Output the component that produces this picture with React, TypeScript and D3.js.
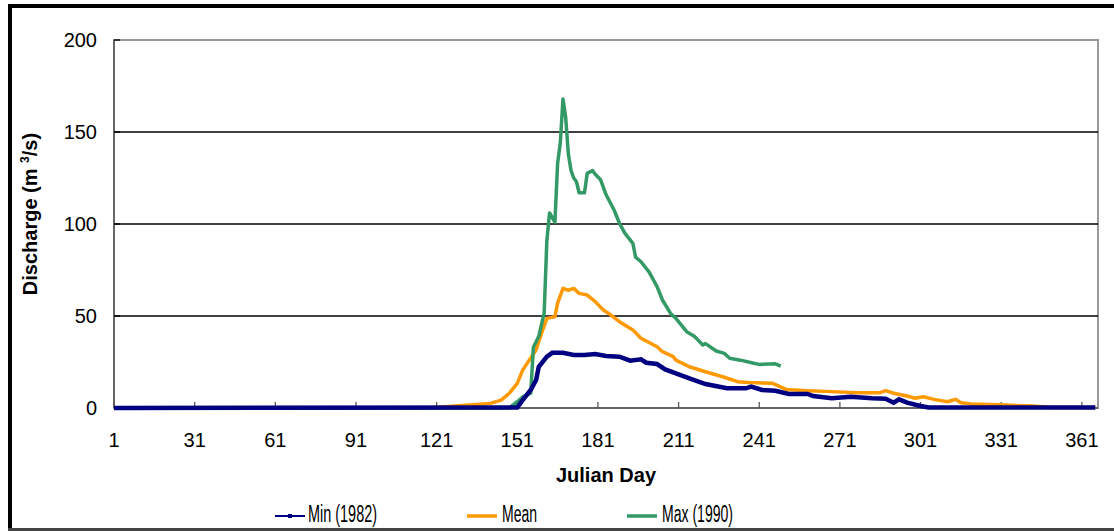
import React from "react";
import * as d3 from "d3";

// daily discharge readings, [julian day, m3/s]
const minSeries: [number, number][] = [
  [1, 0], [151, 0.3], [153, 4.3], [156, 9.8], [158, 15.2], [159, 22.4], [162, 27.9],
  [164, 30], [168, 30], [172, 28.8], [176, 28.8], [180, 29.3], [184, 28.3], [189, 27.9],
  [193, 25.7], [197, 26.5], [199, 24.6], [203, 23.9], [206, 21], [210, 18.8], [215, 16.1],
  [221, 13], [229, 10.7], [236, 10.7], [238, 11.6], [242, 9.8], [247, 9.4], [252, 7.6],
  [259, 7.6], [261, 6.5], [268, 5.3], [275, 6.1], [283, 5.3], [288, 5], [291, 2.9],
  [293, 4.7], [296, 2.9], [301, 1.1], [304, 0.3], [366, 0.3],
];

const meanSeries: [number, number][] = [
  [1, 0], [120, 0.3], [133, 1.6], [141, 2.5], [145, 4.3], [148, 8], [151, 13.4],
  [153, 20.6], [155, 25], [158, 31.5], [160, 40.6], [162, 48.7], [165, 49.6], [166, 57],
  [168, 65], [170, 64], [172, 65], [174, 62.3], [177, 61.4], [180, 57.8], [183, 53.3],
  [185, 51.4], [189, 46.9], [194, 42.4], [197, 37.9], [203, 33.3], [205, 30.6],
  [209, 27.9], [210, 26], [215, 22.4], [221, 19.7], [228, 16.7], [233, 14.3], [237, 13.8],
  [246, 13.4], [251, 10.1], [259, 9.4], [268, 8.9], [277, 8.3], [286, 8.3], [288, 9.4],
  [291, 8], [296, 6.5], [299, 5.3], [302, 6.1], [306, 4.7], [311, 3.4], [314, 4.7],
  [316, 2.9], [320, 2.2], [333, 1.6], [343, 1.1], [350, 0.3], [366, 0.3],
];

const maxSeries: [number, number][] = [
  [1, 0], [148, 0], [151, 3.4], [153, 6], [156, 8], [157, 33], [159, 39], [161, 51.6],
  [162, 91], [163, 106], [165, 101], [166, 133], [167, 144], [168, 168], [169, 158],
  [170, 138], [171, 129], [172, 125], [173, 123], [174, 117], [176, 117], [177, 127.5],
  [179, 129], [180, 127], [182, 124], [184, 116], [187, 107.6], [189, 100.4], [191, 95],
  [194, 89.5], [195, 82], [197, 79.5], [200, 74], [203, 66], [205, 58.7], [208, 51.4],
  [210, 48.7], [214, 41.5], [217, 38.8], [220, 34.2], [221, 35], [225, 31], [228, 29.7],
  [230, 27], [234, 26], [239, 24.3], [241, 23.7], [247, 24], [249, 22.8],
];

const xTicks = [1, 31, 61, 91, 121, 151, 181, 211, 241, 271, 301, 331, 361];
const yTicks = [0, 50, 100, 150, 200];
const seriesNames = ["Min (1982)", "Mean", "Max (1990)"];
const seriesColors = ["#000080", "#FF9900", "#339966"];

const font = "'Liberation Sans', Arial, sans-serif";

export default function App() {
  const x = d3.scaleLinear().domain([1, 367]).range([114, 1098]);
  const y = d3.scaleLinear().domain([0, 200]).range([408, 40]);
  const line = d3
    .line<[number, number]>()
    .x((d) => x(d[0]))
    .y((d) => y(d[1]));

  const legend = [
    { x0: 275, tx: 308, w: 69 },
    { x0: 467, tx: 502, w: 35 },
    { x0: 627, tx: 662, w: 71 },
  ];

  return (
    <svg
      width={1114}
      height={531}
      style={{ position: "absolute", left: 0, top: 0, background: "#fff" }}
      fontFamily={font}
    >
      {/* outer frame */}
      <line x1={10} y1={6} x2={1114} y2={6} stroke="#000" strokeWidth={4} />
      <line x1={10} y1={4} x2={10} y2={531} stroke="#000" strokeWidth={4} />
      <line x1={8} y1={529.5} x2={1114} y2={529.5} stroke="#444" strokeWidth={3} />

      {/* plot area */}
      <rect x={114} y={40} width={984} height={368} fill="#fff" stroke="#999" strokeWidth={2} />
      {yTicks
        .filter((t) => t > 0 && t < 200)
        .map((t) => (
          <line key={t} x1={114} x2={1098} y1={y(t)} y2={y(t)} stroke="#000" strokeWidth={1.3} />
        ))}
      <line x1={114} x2={114} y1={40} y2={408} stroke="#555" strokeWidth={1.5} />
      <line x1={114} x2={1098} y1={408} y2={408} stroke="#555" strokeWidth={1.5} />
      {yTicks.map((t) => (
        <g key={t}>
          <line x1={114} x2={120} y1={y(t)} y2={y(t)} stroke="#000" strokeWidth={1.3} />
          <text x={97} y={y(t) + 7} textAnchor="end" fontSize={20}>
            {t}
          </text>
        </g>
      ))}
      {xTicks.map((t) => (
        <g key={t}>
          <line x1={x(t)} x2={x(t)} y1={402} y2={408} stroke="#555" strokeWidth={1.3} />
          <text x={x(t)} y={447} textAnchor="middle" fontSize={20}>
            {t}
          </text>
        </g>
      ))}

      {/* series */}
      <path d={line(meanSeries) || ""} fill="none" stroke={seriesColors[1]} strokeWidth={3.5} strokeLinejoin="round" />
      <path d={line(maxSeries) || ""} fill="none" stroke={seriesColors[2]} strokeWidth={3.5} strokeLinejoin="round" />
      <path d={line(minSeries) || ""} fill="none" stroke={seriesColors[0]} strokeWidth={4.5} strokeLinejoin="miter" />

      {/* axis titles */}
      <text x={606} y={482} textAnchor="middle" fontSize={20} fontWeight="bold">
        Julian Day
      </text>
      <text
        transform="translate(37,214) rotate(-90)"
        textAnchor="middle"
        fontSize={20}
        fontWeight="bold"
      >
        Discharge (m <tspan fontSize={12} dy={-8}>3</tspan>
        <tspan dy={8}>/s)</tspan>
      </text>

      {/* legend */}
      {legend.map((l, i) => (
        <g key={i}>
          <line
            x1={l.x0}
            x2={l.x0 + 30}
            y1={516}
            y2={516}
            stroke={seriesColors[i]}
            strokeWidth={i === 0 ? 2 : 3.5}
          />
          {i === 0 && <rect x={l.x0 + 13} y={514} width={4} height={4} fill={seriesColors[0]} />}
          <text
            x={l.tx}
            y={522}
            fontSize={23}
            textLength={l.w}
            lengthAdjust="spacingAndGlyphs"
          >
            {seriesNames[i]}
          </text>
        </g>
      ))}
    </svg>
  );
}
